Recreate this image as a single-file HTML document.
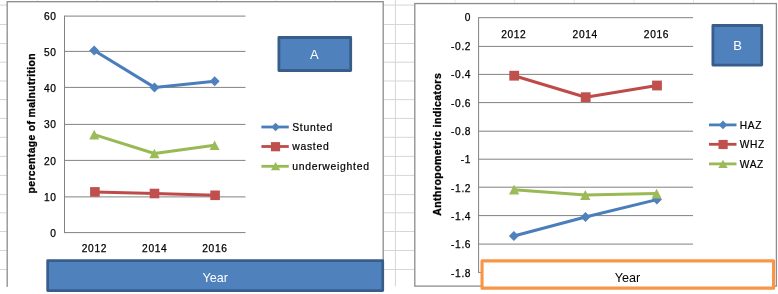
<!DOCTYPE html><html><head><meta charset="utf-8"><title>Charts</title>
<style>html,body{margin:0;padding:0;background:#fff;overflow:hidden}svg{display:block}text{font-family:"Liberation Sans",sans-serif}</style></head><body>
<svg width="778" height="294" viewBox="0 0 778 294">
<rect x="0" y="0" width="778" height="294" fill="#fff"/>
<path d="M0 5.1H776 M0 24.5H776 M0 43.5H776 M0 62.2H776 M0 81.0H776 M0 99.6H776 M0 118.4H776 M0 137.3H776 M0 156.4H776 M0 175.4H776 M0 194.6H776 M0 212.8H776 M0 231.5H776 M0 250.5H776 M0 269.5H776 M395.4 0V286.5" stroke="#d6d6d6" stroke-width="1" fill="none"/>
<path d="M37.5 0V4 M97.1 0V4 M156.8 0V4 M216.4 0V4 M276.1 0V4 M335.8 0V4 M455.0 0V4 M514.7 0V4 M574.3 0V4 M634.0 0V4 M693.6 0V4 M753.3 0V4" stroke="#e6e6e6" stroke-width="1" fill="none"/>
<rect x="7.2" y="1.7" width="376" height="300" fill="#fff" stroke="#8c8c8c" stroke-width="1.3"/>
<rect x="0" y="286.9" width="778" height="8" fill="#fff"/>
<rect x="414.8" y="3.55" width="361.6" height="282.55" fill="#fff" stroke="#8c8c8c" stroke-width="1.3"/>
<path d="M64.5 232.6H245.5 M64.5 196.9H245.5 M64.5 160.4H245.5 M64.5 124.4H245.5 M64.5 87.4H245.5 M64.5 51.4H245.5 M64.5 16.1H245.5 M64.5 15.6V233.1" stroke="#828282" stroke-width="1.0" fill="none"/>
<text x="56.6" y="237.2" font-size="10.2" letter-spacing="0.65" text-anchor="end" fill="#000" stroke="#000" stroke-width="0.25">0</text>
<text x="56.6" y="200.9" font-size="10.2" letter-spacing="0.65" text-anchor="end" fill="#000" stroke="#000" stroke-width="0.25">10</text>
<text x="56.6" y="164.7" font-size="10.2" letter-spacing="0.65" text-anchor="end" fill="#000" stroke="#000" stroke-width="0.25">20</text>
<text x="56.6" y="128.4" font-size="10.2" letter-spacing="0.65" text-anchor="end" fill="#000" stroke="#000" stroke-width="0.25">30</text>
<text x="56.6" y="92.1" font-size="10.2" letter-spacing="0.65" text-anchor="end" fill="#000" stroke="#000" stroke-width="0.25">40</text>
<text x="56.6" y="55.8" font-size="10.2" letter-spacing="0.65" text-anchor="end" fill="#000" stroke="#000" stroke-width="0.25">50</text>
<text x="56.6" y="19.6" font-size="10.2" letter-spacing="0.65" text-anchor="end" fill="#000" stroke="#000" stroke-width="0.25">60</text>
<text x="94.4" y="252.2" font-size="10.2" letter-spacing="0.65" text-anchor="middle" fill="#000" stroke="#000" stroke-width="0.25">2012</text>
<text x="154.7" y="252.2" font-size="10.2" letter-spacing="0.65" text-anchor="middle" fill="#000" stroke="#000" stroke-width="0.25">2014</text>
<text x="214.9" y="252.2" font-size="10.2" letter-spacing="0.65" text-anchor="middle" fill="#000" stroke="#000" stroke-width="0.25">2016</text>
<text transform="translate(34.7,123.4) rotate(-90)" font-size="10.4" font-weight="bold" text-anchor="middle" fill="#000" stroke="#000" stroke-width="0.3" textLength="140" lengthAdjust="spacing">percentage of malnutrition</text>
<polyline points="94.2,50.5 154.5,87.4 214.7,81.2" fill="none" stroke="#4A7EBB" stroke-width="3.0" stroke-linejoin="round" stroke-linecap="round"/>
<path d="M89.2 50.5L94.2 45.5L99.2 50.5L94.2 55.5Z" fill="#4F81BD"/>
<path d="M149.5 87.4L154.5 82.4L159.5 87.4L154.5 92.4Z" fill="#4F81BD"/>
<path d="M209.7 81.2L214.7 76.2L219.7 81.2L214.7 86.2Z" fill="#4F81BD"/>
<polyline points="94.9,191.9 154.5,193.5 215.1,195.3" fill="none" stroke="#BE4B48" stroke-width="3.0" stroke-linejoin="round" stroke-linecap="round"/>
<rect x="90.1" y="187.1" width="9.6" height="9.6" fill="#C0504D"/>
<rect x="149.7" y="188.7" width="9.6" height="9.6" fill="#C0504D"/>
<rect x="210.3" y="190.5" width="9.6" height="9.6" fill="#C0504D"/>
<polyline points="94.2,134.6 154.4,153.5 214.6,145.2" fill="none" stroke="#98B954" stroke-width="3.0" stroke-linejoin="round" stroke-linecap="round"/>
<path d="M94.2 129.8L99.2 139.4H89.2Z" fill="#9BBB59"/>
<path d="M154.4 148.7L159.4 158.3H149.4Z" fill="#9BBB59"/>
<path d="M214.6 140.4L219.6 150.0H209.6Z" fill="#9BBB59"/>
<path d="M261.4 127.0H288.8" stroke="#4A7EBB" stroke-width="2.8" fill="none"/>
<path d="M271.3 127.0L275.6 122.7L279.9 127.0L275.6 131.3Z" fill="#4F81BD"/>
<text x="292.2" y="131.3" font-size="10.4" letter-spacing="0.72" fill="#000" stroke="#000" stroke-width="0.2">Stunted</text>
<path d="M261.4 146.5H288.8" stroke="#BE4B48" stroke-width="2.8" fill="none"/>
<rect x="270.9" y="142.1" width="9.2" height="9.2" fill="#C0504D"/>
<text x="292.2" y="150.1" font-size="10.4" letter-spacing="0.72" fill="#000" stroke="#000" stroke-width="0.2">wasted</text>
<path d="M261.4 166.3H288.8" stroke="#98B954" stroke-width="2.8" fill="none"/>
<path d="M275.6 162.1L280.3 170.3H270.9Z" fill="#9BBB59"/>
<text x="292.2" y="169.7" font-size="10.4" letter-spacing="0.72" fill="#000" stroke="#000" stroke-width="0.2">underweighted</text>
<rect x="278.9" y="37.5" width="71.8" height="33.0" fill="#4F81BD" stroke="#385D8A" stroke-width="2.8" stroke-linejoin="round"/>
<text x="314.3" y="59.2" font-size="13" text-anchor="middle" fill="#fff">A</text>
<rect x="47.65" y="260.65" width="335.1" height="29.9" fill="#4F81BD" stroke="#385D8A" stroke-width="2.7" stroke-linejoin="round"/>
<text x="215.2" y="281.7" font-size="12.6" text-anchor="middle" fill="#fff">Year</text>
<path d="M478.6 17.7H693.0 M478.6 46.4H693.0 M478.6 74.4H693.0 M478.6 102.6H693.0 M478.6 131.2H693.0 M478.6 159.2H693.0 M478.6 187.2H693.0 M478.6 215.6H693.0 M478.6 244.1H693.0 M478.6 272.4H693.0 M478.6 17.2V272.9" stroke="#828282" stroke-width="1.0" fill="none"/>
<text x="471.2" y="21.4" font-size="10.2" letter-spacing="0.65" text-anchor="end" fill="#000" stroke="#000" stroke-width="0.25">0</text>
<text x="471.2" y="49.8" font-size="10.2" letter-spacing="0.65" text-anchor="end" fill="#000" stroke="#000" stroke-width="0.25">-0.2</text>
<text x="471.2" y="78.1" font-size="10.2" letter-spacing="0.65" text-anchor="end" fill="#000" stroke="#000" stroke-width="0.25">-0.4</text>
<text x="471.2" y="106.5" font-size="10.2" letter-spacing="0.65" text-anchor="end" fill="#000" stroke="#000" stroke-width="0.25">-0.6</text>
<text x="471.2" y="134.8" font-size="10.2" letter-spacing="0.65" text-anchor="end" fill="#000" stroke="#000" stroke-width="0.25">-0.8</text>
<text x="471.2" y="163.2" font-size="10.2" letter-spacing="0.65" text-anchor="end" fill="#000" stroke="#000" stroke-width="0.25">-1</text>
<text x="471.2" y="191.5" font-size="10.2" letter-spacing="0.65" text-anchor="end" fill="#000" stroke="#000" stroke-width="0.25">-1.2</text>
<text x="471.2" y="219.9" font-size="10.2" letter-spacing="0.65" text-anchor="end" fill="#000" stroke="#000" stroke-width="0.25">-1.4</text>
<text x="471.2" y="248.2" font-size="10.2" letter-spacing="0.65" text-anchor="end" fill="#000" stroke="#000" stroke-width="0.25">-1.6</text>
<text x="471.2" y="276.6" font-size="10.2" letter-spacing="0.65" text-anchor="end" fill="#000" stroke="#000" stroke-width="0.25">-1.8</text>
<text x="513.8" y="37.7" font-size="10.2" letter-spacing="0.65" text-anchor="middle" fill="#000" stroke="#000" stroke-width="0.25">2012</text>
<text x="585.2" y="37.7" font-size="10.2" letter-spacing="0.65" text-anchor="middle" fill="#000" stroke="#000" stroke-width="0.25">2014</text>
<text x="656.5" y="37.7" font-size="10.2" letter-spacing="0.65" text-anchor="middle" fill="#000" stroke="#000" stroke-width="0.25">2016</text>
<text transform="translate(441.2,144.5) rotate(-90)" font-size="10.6" font-weight="bold" text-anchor="middle" fill="#000" stroke="#000" stroke-width="0.3" textLength="142.6" lengthAdjust="spacing">Anthropometric indicators</text>
<polyline points="513.9,236.0 585.5,217.0 656.9,199.6" fill="none" stroke="#4A7EBB" stroke-width="3.0" stroke-linejoin="round" stroke-linecap="round"/>
<path d="M508.9 236.0L513.9 231.0L518.9 236.0L513.9 241.0Z" fill="#4F81BD"/>
<path d="M580.5 217.0L585.5 212.0L590.5 217.0L585.5 222.0Z" fill="#4F81BD"/>
<path d="M651.9 199.6L656.9 194.6L661.9 199.6L656.9 204.6Z" fill="#4F81BD"/>
<polyline points="514.2,75.7 585.7,97.2 657.0,85.5" fill="none" stroke="#BE4B48" stroke-width="3.0" stroke-linejoin="round" stroke-linecap="round"/>
<rect x="509.3" y="70.8" width="9.8" height="9.8" fill="#C0504D"/>
<rect x="580.8" y="92.3" width="9.8" height="9.8" fill="#C0504D"/>
<rect x="652.1" y="80.6" width="9.8" height="9.8" fill="#C0504D"/>
<polyline points="514.1,189.7 585.3,195.0 656.6,193.6" fill="none" stroke="#98B954" stroke-width="3.0" stroke-linejoin="round" stroke-linecap="round"/>
<path d="M514.1 184.8L519.2 194.6H509.0Z" fill="#9BBB59"/>
<path d="M585.3 190.1L590.4 199.9H580.2Z" fill="#9BBB59"/>
<path d="M656.6 188.7L661.7 198.5H651.5Z" fill="#9BBB59"/>
<path d="M709.0 124.9H736.5" stroke="#4A7EBB" stroke-width="2.8" fill="none"/>
<path d="M718.7 124.9L723.0 120.6L727.3 124.9L723.0 129.2Z" fill="#4F81BD"/>
<text x="739.8" y="129.3" font-size="10.2" letter-spacing="0.6" fill="#000" stroke="#000" stroke-width="0.2">HAZ</text>
<path d="M709.0 144.3H736.5" stroke="#BE4B48" stroke-width="2.8" fill="none"/>
<rect x="718.5" y="139.9" width="9.2" height="9.2" fill="#C0504D"/>
<text x="739.8" y="148.3" font-size="10.2" letter-spacing="0.6" fill="#000" stroke="#000" stroke-width="0.2">WHZ</text>
<path d="M709.0 163.9H736.5" stroke="#98B954" stroke-width="2.8" fill="none"/>
<path d="M723.0 159.7L727.7 167.9H718.3Z" fill="#9BBB59"/>
<text x="739.8" y="167.9" font-size="10.2" letter-spacing="0.6" fill="#000" stroke="#000" stroke-width="0.2">WAZ</text>
<rect x="712.9" y="25.5" width="48.8" height="39.6" fill="#4F81BD" stroke="#385D8A" stroke-width="2.8" stroke-linejoin="round"/>
<text x="737.5" y="50.2" font-size="13" text-anchor="middle" fill="#fff">B</text>
<rect x="482.05" y="260.85" width="291.5" height="27.3" fill="#fff" stroke="#F79646" stroke-width="3.1" stroke-linejoin="round"/>
<text x="627.4" y="281.7" font-size="12.6" text-anchor="middle" fill="#000">Year</text>
</svg></body></html>
